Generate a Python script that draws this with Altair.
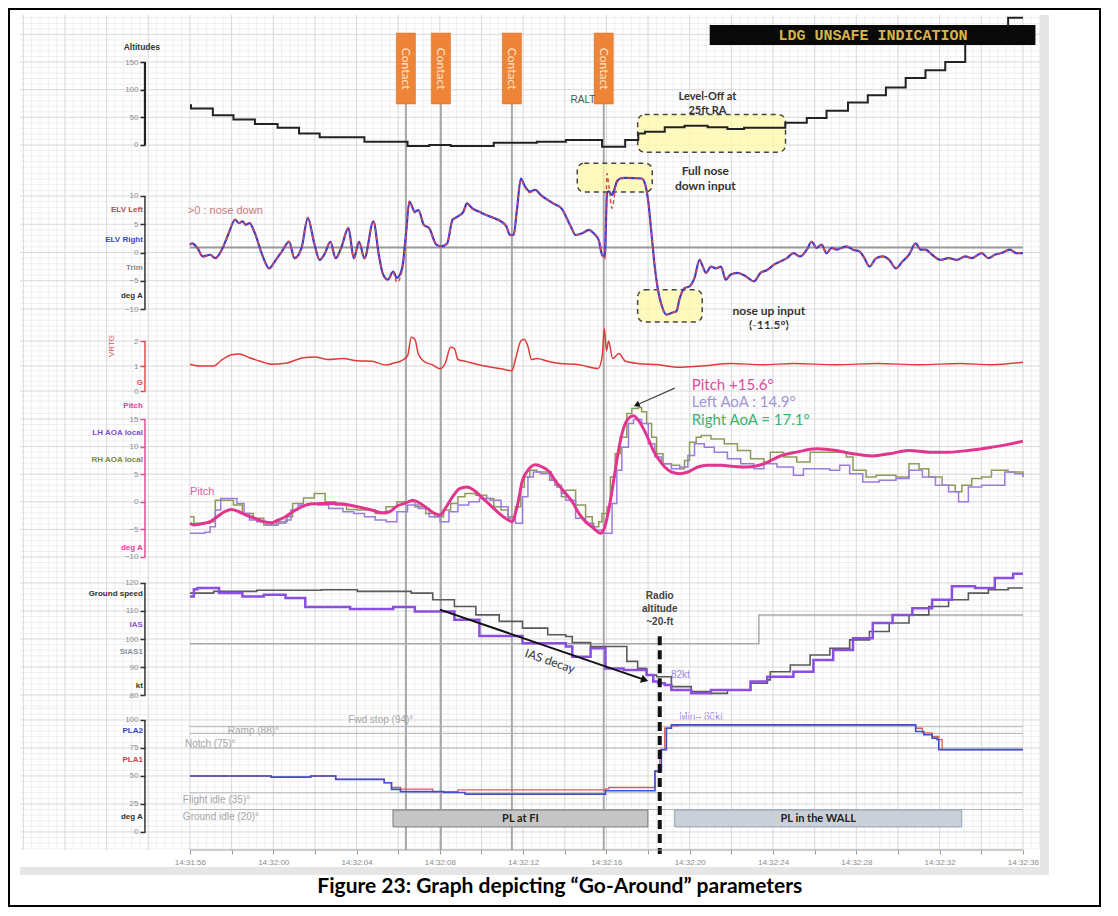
import altair as alt
import numpy as np
import pandas as pd

# ---------------- data (time t in seconds after 14:31:56) ----------------
TICK_LABELS = ["14:31:56", "14:32:00", "14:32:04", "14:32:08", "14:32:12", "14:32:16",
               "14:32:20", "14:32:24", "14:32:28", "14:32:32", "14:32:36"]
CONTACT_T = [10.37, 12.05, 15.46, 19.87]
RADIO_ALT_T = 22.56

ALT_T = [0.0, 0.05, 1.10, 2.09, 3.12, 4.21, 5.24, 6.23, 8.38, 10.45, 11.49, 12.52, 14.59, 16.66,
         18.05, 19.79, 20.90, 21.53, 21.85, 22.80, 23.75, 24.86, 25.81, 26.61, 28.59, 29.62, 30.57,
         31.60, 32.55, 33.42, 34.37, 35.32, 36.27, 37.23, 39.29, 40.0]
ALT_FT = [72, 66, 54, 46, 38, 31, 21, 14, 6, -2, 0, -2, 4, 6, 9, -3, 9, 21, 24, 32, 35, 32, 29, 31,
          40, 49, 62, 77, 90, 104, 121, 135, 150, 200, 230, 230]

ELV_T = [0.0, 0.10, 0.36, 0.62, 0.97, 1.22, 1.57, 1.83, 2.17, 2.35, 2.52, 2.69, 2.86, 3.12, 3.47,
         3.81, 4.07, 4.42, 4.76, 5.02, 5.36, 5.66, 5.97, 6.23, 6.49, 6.74, 7.00, 7.26, 7.61, 7.87,
         8.12, 8.38, 8.81, 9.07, 9.25, 9.50, 9.76, 9.94, 10.19, 10.37, 10.54, 10.80, 10.97, 11.23,
         11.49, 11.83, 12.09, 12.35, 12.61, 12.87, 13.13, 13.30, 13.56, 13.90, 14.25, 14.59, 14.94,
         15.20, 15.37, 15.54, 15.71, 15.89, 16.06, 16.32, 16.58, 16.84, 17.18, 17.44, 17.84,
         18.29, 18.52, 18.84, 19.16, 19.39, 19.63, 19.79, 19.92, 20.03, 20.11, 20.27, 20.50, 20.66,
         20.90, 21.69, 21.85, 22.01, 22.17, 22.33, 22.49, 22.64, 22.88, 23.12, 23.36, 23.52, 23.75,
         23.99, 24.23, 24.47, 24.63, 24.78, 25.02, 25.26, 25.50, 25.73, 25.97, 26.29, 26.69, 27.08,
         27.40, 27.72, 28.03, 28.35, 28.67, 28.98, 29.30, 29.62, 29.86, 30.09, 30.33, 30.57, 30.81,
         31.04, 31.52, 31.84, 32.15, 32.39, 32.63, 32.95, 33.26, 33.58, 33.90, 34.21, 34.53, 34.85,
         35.09, 35.32, 35.64, 36.04, 36.43, 36.83, 37.23, 37.54, 38.02, 38.34, 38.65, 38.97, 39.37,
         39.68, 40.0]
ELV_RIGHT = [1.35, 1.6, 0.8, -0.7, -0.4, -1.0, 0.8, 3.1, 5.8, 5.2, 5.5, 4.9, 5.2, 3.4, -0.4,
             -2.8, -1.6, 0.2, 1.9, -1.0, 0.8, 6.1, 1.6, -1.3, -0.1, 1.9, -1.0, 0.8, 4.3, -1.0,
             1.9, -1.0, 5.5, -0.4, -3.6, -4.8, -3.4, -4.5, -2.8, 3.1, 9.0, 7.2, 7.5, 4.9,
             4.3, 1.4, 1.1, 1.6, 5.8, 6.4, 7.2, 8.7, 7.8, 7.2, 6.6, 6.1, 5.5,
             4.6, 3.1, 3.1, 7.8, 13.1, 11.9, 10.8, 11.1, 10.2, 9.3, 8.7, 7.8,
             4.6, 3.1, 3.4, 4.0, 3.4, 2.2, -0.4, -0.7, 10.5, 10.8, 10.2, 12.5, 13.1,
             13.2, 13.1, 12.2, 9.0, 3.1, -2.8, -6.9, -9.2, -11.0, -10.7, -10.4, -8.1, -6.3,
             -6.0, -4.5, -1.3, -2.5, -3.6, -2.5, -2.8, -2.5, -4.8, -3.9, -3.6, -4.2, -5.1,
             -3.6, -3.1, -2.2, -1.6, -1.0, -0.1, -0.7, 0.5, 1.9, 0.8, 1.4, -0.1, 0.8,
             0.5, 1.1, 0.5, 0.2, -1.0, -2.5, -1.0, -0.7, -1.3, -2.8, -1.6, -0.4, 1.6,
             0.5, 0.5, -0.4, -1.3, -1.0, -1.3, -0.7, -1.0, -0.1, -1.0, -0.4, -0.1, 0.5,
             -0.1, -0.1]
ELV_LEFT = [1.4, 1.6, 0.8, -0.8, -0.4, -1.1, 0.8, 3.2, 5.9, 5.2, 5.6, 4.9, 5.3, 3.4, -0.5,
            -2.9, -1.6, 0.2, 2.0, -1.1, 0.8, 6.2, 1.6, -1.4, -0.1, 2.0, -1.1, 0.8, 4.4, -1.1,
            1.9, -1.1, 5.6, -0.5, -3.7, -4.9, -3.5, -5.3, -3.2, 3.0, 9.1, 7.0, 7.4, 4.9,
            4.3, 1.4, 1.1, 1.6, 5.7, 6.3, 7.2, 8.6, 7.7, 7.2, 6.6, 6.1, 5.5,
            4.6, 3.0, 3.0, 7.7, 13.0, 11.7, 10.6, 11.0, 10.1, 9.3, 8.7, 7.8,
            4.6, 3.1, 3.4, 4.0, 3.4, 2.2, -0.5, -1.2, 14.0, 12.0, 7.8, 12.8, 13.1,
            13.2, 13.1, 12.2, 9.0, 3.1, -2.8, -6.9, -9.2, -11.0, -10.7, -10.4, -8.1, -6.3,
            -6.0, -4.5, -1.3, -2.5, -3.6, -2.5, -2.8, -2.5, -4.8, -3.9, -3.6, -4.2, -5.1,
            -3.6, -3.1, -2.2, -1.6, -1.0, -0.1, -0.7, 0.5, 1.9, 0.8, 1.4, -0.1, 0.8,
            0.5, 1.1, 0.5, 0.2, -1.0, -2.5, -1.0, -0.7, -1.3, -2.8, -1.6, -0.4, 1.6,
            0.5, 0.5, -0.4, -1.3, -1.0, -1.3, -0.7, -1.0, -0.1, -1.0, -0.4, -0.1, 0.5,
            -0.1, -0.1]
TRIM_T = [0.0, 40.0]
TRIM_V = [0.9, 0.9]

G_T = [0.0, 0.45, 1.14, 1.48, 2.00, 2.35, 2.86, 3.38, 3.90, 4.59, 5.45, 5.97, 6.66, 7.35, 8.04,
       8.73, 9.42, 9.76, 10.11, 10.45, 10.63, 10.80, 10.97, 11.23, 11.66, 12.01, 12.26, 12.52,
       12.70, 12.87, 13.21, 13.90, 14.94, 15.46, 15.63, 15.89, 16.06, 16.23, 16.40, 16.66, 17.18,
       17.70, 18.70, 19.60, 19.80, 19.90, 20.00, 20.10, 20.30, 20.60, 20.90, 21.50, 22.50, 23.50,
       24.50, 26.00, 27.50, 29.00, 31.00, 33.00, 35.00, 37.00, 38.50, 40.00]
G_V = [1.07, 1.0, 1.0, 1.21, 1.45, 1.48, 1.33, 1.19, 1.07, 1.11, 1.33, 1.36, 1.26, 1.3, 1.21,
       1.19, 1.04, 1.11, 1.19, 1.41, 2.15, 2.07, 1.48, 1.19, 1.04, 0.89, 1.11, 1.75,
       1.7, 1.26, 1.19, 1.04, 0.89, 0.81, 1.26, 2.0, 2.07, 1.78, 1.26, 1.3, 1.19,
       1.11, 1.05, 0.9, 1.4, 2.5, 1.6, 2.0, 1.3, 1.5, 1.2, 1.1, 1.05, 0.95,
       1.0, 1.1, 1.05, 1.1, 1.05, 1.1, 1.05, 1.1, 1.05, 1.15]

PITCH_T = [0.0, 0.19, 0.53, 0.97, 1.31, 1.66, 2.00, 2.35, 2.69, 3.12, 3.55, 3.90, 4.24, 4.59, 4.93,
           5.36, 5.80, 6.31, 6.83, 7.35, 8.04, 8.73, 9.25, 9.59, 9.94, 10.37, 10.71, 11.06, 11.40,
           11.75, 12.01, 12.26, 12.61, 12.95, 13.30, 13.64, 13.99, 14.42, 14.85, 15.28, 15.46,
           15.71, 15.97, 16.23, 16.58, 16.92, 17.27, 17.53, 17.84, 18.36, 18.68, 19.00, 19.39,
           19.71, 19.87, 20.11, 20.35, 20.58, 20.82, 21.06, 21.30, 21.53, 21.77, 22.01, 22.25,
           22.49, 22.80, 23.12, 23.52, 23.91, 24.39, 24.86, 25.50, 26.13, 26.76, 27.56, 28.35,
           29.14, 30.09, 31.04, 31.84, 32.79, 33.58, 34.53, 35.48, 36.43, 37.38, 38.34, 39.29, 40.0]
PITCH_V = [-3.9, -4.2, -4.0, -3.6, -2.7, -1.8, -1.4, -1.8, -2.4, -3.0, -3.6, -3.8, -3.3, -2.7, -1.8,
           -0.9, -0.4, -0.3, -0.3, -0.4, -0.9, -1.5, -2.0, -1.8, -0.8, -0.2, 0.3, -0.3, -1.2,
           -2.1, -2.4, -1.2, 0.9, 2.4, 2.7, 2.1, 0.9, -0.6, -2.1, -3.3, -3.6,
           -0.9, 3.9, 5.7, 6.7, 6.3, 5.4, 3.9, 2.4, 0.0, -2.1, -3.6, -4.8,
           -5.7, -5.1, -1.5, 3.9, 9.3, 13.3, 15.1, 15.6, 14.8, 13.3, 11.4, 9.3,
           7.8, 6.3, 5.4, 5.1, 5.4, 6.3, 6.6, 6.6, 6.4, 6.3, 6.9, 8.3,
           9.0, 9.6, 9.3, 8.7, 8.3, 8.7, 9.3, 9.0, 9.0, 9.3, 9.8, 10.4, 11.0]

LH_T = [0.0, 0.71, 0.97, 1.22, 1.48, 1.91, 2.26, 2.60, 2.86, 3.21, 3.64, 4.24, 4.59, 4.85, 5.19,
        5.62, 6.14, 6.66, 7.35, 7.87, 8.38, 8.90, 9.42, 9.94, 10.45, 10.97, 11.49, 12.01, 12.44,
        12.87, 13.39, 13.90, 14.42, 14.94, 15.28, 15.63, 15.97, 16.23, 16.49, 16.84, 17.27, 17.53,
        17.84, 18.05, 18.52, 19.00, 19.39, 19.79, 20.27, 20.50, 20.74, 21.06, 21.30, 21.69, 22.01,
        22.33, 22.64, 23.12, 23.52, 23.91, 24.23, 24.70, 25.18, 25.81, 26.45, 27.08, 27.56, 28.19,
        28.98, 29.46, 30.09, 30.73, 31.20, 31.68, 32.31, 33.10, 33.90, 34.53, 35.17, 35.80, 36.43,
        36.91, 37.38, 38.02, 38.65, 39.13, 39.60, 40.0]
LH_V = [-5.7, -5.5, -4.5, -1.5, 0.6, 0.6, -0.3, -2.1, -3.3, -3.6, -4.2, -3.9, -3.3, -1.5, -0.6,
        -0.3, -0.6, -1.2, -1.8, -2.1, -2.7, -3.3, -3.6, -1.8, -0.6, -1.2, -2.7, -3.6, -1.8,
        -0.6, 0.0, 0.6, 0.3, -0.9, -3.0, -3.9, 0.9, 4.5, 5.4, 5.1, 3.9, 3.0,
        1.5, 0.3, -3.0, -3.9, -5.1, -5.7, -0.3, 5.7, 9.9, 14.2, 14.9, 14.2, 10.5,
        8.1, 6.9, 6.0, 6.3, 8.4, 10.5, 9.9, 9.0, 7.8, 6.9, 6.0, 6.9, 6.3,
        4.8, 6.0, 6.0, 5.7, 6.6, 5.1, 3.6, 3.9, 4.2, 5.7, 4.5, 3.0, 1.8,
        0.0, 2.7, 3.0, 3.0, 5.4, 5.1, 4.5]

RH_T = [0.0, 0.19, 0.97, 1.22, 1.83, 2.09, 2.52, 3.04, 3.55, 4.16, 4.67, 4.93, 5.45, 5.97, 6.49,
        7.00, 7.52, 8.04, 8.90, 9.42, 9.94, 10.45, 10.80, 11.32, 11.75, 12.18, 12.52, 12.87, 13.21,
        13.73, 14.25, 14.59, 14.94, 15.28, 15.63, 15.89, 16.06, 16.32, 16.66, 17.09, 17.35, 17.61,
        17.84, 18.05, 18.52, 19.00, 19.32, 19.63, 19.79, 20.03, 20.19, 20.42, 20.66, 20.98, 21.22,
        21.53, 21.69, 21.93, 22.17, 22.41, 22.72, 23.12, 23.52, 23.75, 23.99, 24.31, 24.55, 25.02,
        25.66, 26.29, 26.92, 27.56, 27.87, 28.51, 29.14, 29.78, 30.41, 31.52, 31.84, 32.47, 32.95,
        33.90, 34.53, 35.01, 35.48, 36.12, 36.75, 37.07, 37.54, 38.02, 38.49, 39.29, 40.0]
RH_V = [-2.7, -3.9, -3.6, 0.3, 0.3, -0.6, -2.1, -3.0, -4.2, -3.6, -2.7, -0.3, 0.7, 1.5, 0.0,
        -0.6, -1.4, -1.5, -2.1, -0.9, 0.0, 0.0, -0.9, -2.1, -2.7, -1.5, -0.3, 0.9, 1.5,
        1.2, 0.6, -0.9, -1.5, -2.7, -0.9, 2.7, 4.5, 5.7, 5.4, 5.4, 3.9, 2.7,
        0.9, 2.1, -0.6, -2.7, -4.5, -3.6, -2.1, -0.9, 4.5, 8.7, 11.7, 16.0, 16.9,
        17.1, 16.3, 14.2, 11.7, 8.7, 6.9, 6.6, 6.0, 7.5, 10.8, 11.7, 12.0, 11.4,
        10.5, 9.3, 7.8, 7.2, 9.0, 8.1, 7.2, 9.0, 9.0, 8.1, 5.7, 4.5, 4.8,
        4.5, 6.9, 6.0, 4.5, 3.0, 1.8, 3.0, 4.2, 4.5, 5.7, 5.4, 4.5]

GS_T = [0.0, 1.14, 3.21, 6.31, 8.04, 10.63, 11.66, 12.70, 13.73, 14.85, 15.97, 17.18, 18.05, 18.36,
        19.24, 20.98, 21.50, 21.93, 22.41, 23.12, 24.07, 25.02, 25.81, 26.92, 27.72, 27.87, 28.83,
        29.78, 30.73, 31.68, 32.63, 33.58, 34.53, 35.48, 36.43, 37.38, 38.34, 39.29, 40.0]
GS_V = [116.4, 117.0, 117.4, 117.6, 117.0, 116.4, 114.0, 111.6, 108.6, 106.3, 103.9, 101.5, 100.9,
        98.7, 97.3, 92.0, 89.5, 87.1, 86.5, 83.0, 81.2, 80.6, 81.8, 84.2, 85.4, 88.3, 90.7,
        94.3, 96.7, 99.7, 102.7, 105.7, 108.6, 111.6, 114.0, 116.4, 117.6, 118.2, 118.2]

IAS_T = [0.0, 0.19, 0.36, 1.40, 2.52, 3.55, 4.59, 5.54, 7.69, 9.76, 10.80, 12.70, 13.90, 15.97,
         18.05, 18.36, 19.24, 19.95, 20.82, 21.93, 22.25, 22.49, 22.80, 23.12, 24.07, 25.02, 26.92,
         27.72, 28.98, 29.94, 30.89, 31.84, 32.79, 33.74, 34.69, 35.64, 36.59, 37.70, 38.65,
         39.53, 40.0]
IAS_V = [115.2, 117.8, 118.2, 116.4, 115.2, 115.8, 114.6, 111.4, 110.7, 111.4, 109.8, 106.9, 101.1,
         98.5, 97.3, 93.7, 96.7, 89.5, 88.9, 87.1, 84.8, 84.2, 83.6, 81.8, 80.6, 81.8, 84.8,
         86.5, 88.3, 92.5, 96.1, 100.3, 105.7, 108.6, 111.0, 114.0, 118.8, 118.2, 121.8,
         123.3, 123.3]

SIAS_T = [0.0, 27.32, 40.0]
SIAS_V = [98.3, 108.6, 108.6]

PLA1_T = [0.0, 3.90, 5.80, 7.00, 9.33, 9.68, 10.11, 11.66, 12.87, 19.95, 20.11, 22.33, 22.56,
          22.80, 23.12, 23.44, 34.85, 35.17, 35.64, 35.96, 36.12, 40.0]
PLA1_V = [50, 49, 50, 47, 44, 39.7, 38.2, 36.0, 37.6, 38.5, 39.7, 54, 73.5, 92.6, 94.7, 95.6,
          92.6, 88.5, 85.3, 82.4, 73.5, 73.5]
PLA2_T = [0.0, 3.90, 5.80, 7.00, 9.33, 9.68, 10.11, 12.18, 13.21, 19.95, 22.33, 22.64, 22.88,
          23.12, 34.85, 35.24, 35.64, 35.88, 35.96, 40.0]
PLA2_V = [50, 49, 50, 47, 44, 38, 36, 35.3, 33.8, 36.8, 54.4, 73.5, 92.6, 95.6, 89.7, 86.8,
          83.8, 82.4, 73.5, 73.5]

REF_NAMES = ["Fwd stop (94)°", "Ramp (88)°", "Notch (75)°", "Flight idle (35)°", "Ground idle (20)°"]
REF_VALUES = [94, 88, 75, 35, 20]

# ---------------- layout / style ----------------
XDOM = [-8.16, 40.82]
W = 1020
T_AXIS = -2.16
AX_OFF = -125
FONT_UI = "Liberation Sans"
FONT_DOC = "Lato"
MINOR = "#efefef"
MAJOR = "#d8d8d8"
CONTACT_GRAY = "#a8a8a8"

P = {
    "alt": dict(h=155, dom=[-45.2, 235.0], ticks=[0, 50, 100, 150], major=50, minor=10, color="#222"),
    "elv": dict(h=155, dom=[-12.83, 14.6], ticks=[-10, -5, 0, 5, 10], major=5, minor=1, color="#333"),
    "g": dict(h=80, dom=[-0.56, 2.64], ticks=[0, 1, 2], major=1, minor=0.2, color="#e05050"),
    "pitch": dict(h=165, dom=[-12.36, 17.54], ticks=[-10, -5, 0, 5, 10, 15], major=5, minor=1, color="#e0509a"),
    "spd": dict(h=138, dom=[75.36, 124.64], ticks=[80, 90, 100, 110, 120], major=10, minor=2, color="#333"),
    "pla": dict(h=142, dom=[-16.1, 110.7], ticks=[0, 25, 50, 75, 100], major=25, minor=5, color="#333"),
}


def xq(field="t", axis=None):
    return alt.X(field, type="quantitative", scale=alt.Scale(domain=XDOM, nice=False, zero=False), axis=axis)


def yq(p, field="v", axis=None):
    return alt.Y(field, type="quantitative", scale=alt.Scale(domain=p["dom"], nice=False, zero=False), axis=axis)


def one():
    return alt.Data(values=[{"k": 0}])


def grid(p, xaxis=None):
    k = np.arange(-20, 103)
    tv = np.round(k * 0.4, 3)
    vmin = pd.DataFrame({"t": tv[k % 5 != 0]})
    vmaj = pd.DataFrame({"t": tv[k % 5 == 0]})
    ratio = int(round(p["major"] / p["minor"]))
    j = np.arange(int(np.ceil(p["dom"][0] / p["minor"])), int(np.floor(p["dom"][1] / p["minor"])) + 1)
    hv = np.round(j * p["minor"], 4)
    hmin = pd.DataFrame({"v": hv[j % ratio != 0]})
    hmaj = pd.DataFrame({"v": hv[j % ratio == 0]})
    yaxis = alt.Axis(orient="left", values=p["ticks"], offset=AX_OFF, domain=False, grid=False, ticks=True,
                     tickSize=5, tickColor=p["color"], tickWidth=1.5, labelColor="#8c8c8c",
                     labelFontSize=8, labelFont=FONT_UI, labelPadding=2, title=None, zindex=1)
    return [
        alt.Chart(vmin).mark_rule(color=MINOR, strokeWidth=1).encode(
            x=xq(axis=xaxis), y=alt.value(0), y2=alt.value(p["h"])),
        alt.Chart(hmin).mark_rule(color=MINOR, strokeWidth=1).encode(
            y=yq(p, axis=yaxis), x=alt.value(0), x2=alt.value(W)),
        alt.Chart(vmaj).mark_rule(color=MAJOR, strokeWidth=1).encode(
            x=xq(), y=alt.value(0), y2=alt.value(p["h"])),
        alt.Chart(hmaj).mark_rule(color=MAJOR, strokeWidth=1).encode(
            y=yq(p), x=alt.value(0), x2=alt.value(W)),
    ]


def axis_line(p, width=1.5):
    df = pd.DataFrame({"t": [T_AXIS], "v": [p["ticks"][0]], "v2": [p["ticks"][-1]]})
    return alt.Chart(df).mark_rule(color=p["color"], strokeWidth=width).encode(
        x=xq(), y=yq(p), y2=alt.Y2("v2"))


def axis_texts(p, rows, size=8, bold=True):
    df = pd.DataFrame({"t": [T_AXIS - 0.1] * len(rows), "v": [r[1] for r in rows],
                       "s": [r[0] for r in rows], "c": [r[2] for r in rows]})
    return alt.Chart(df).mark_text(align="right", baseline="middle", fontSize=size, font=FONT_UI,
                                   fontWeight="bold" if bold else "normal").encode(
        x=xq(), y=yq(p), text="s:N", color=alt.Color("c:N", scale=None))


def contact_lines(p, top=None):
    if top is None:
        return alt.Chart(pd.DataFrame({"t": CONTACT_T})).mark_rule(color=CONTACT_GRAY, strokeWidth=2).encode(
            x=xq(), y=alt.value(0), y2=alt.value(p["h"]))
    return alt.Chart(pd.DataFrame({"t": CONTACT_T, "v": [top] * 4})).mark_rule(
        color=CONTACT_GRAY, strokeWidth=2).encode(x=xq(), y=yq(p), y2=alt.value(p["h"]))


def series(p, t, v, color, width, interp="linear", dash=None):
    kw = dict(color=color, strokeWidth=width, interpolate=interp)
    if dash:
        kw["strokeDash"] = dash
    return alt.Chart(pd.DataFrame({"t": t, "v": v})).mark_line(**kw).encode(x=xq(), y=yq(p))


def text(p, rows, **mk):
    df = pd.DataFrame({"t": [r[0] for r in rows], "v": [r[1] for r in rows], "s": [r[2] for r in rows]})
    return alt.Chart(df).mark_text(**mk).encode(x=xq(), y=yq(p), text="s:N")


def box(p, t1, t2, v1, v2, **mk):
    df = pd.DataFrame({"t": [t1], "t2": [t2], "v": [v1], "v2": [v2]})
    return alt.Chart(df).mark_rect(**mk).encode(x=xq(), x2=alt.X2("t2"), y=yq(p), y2=alt.Y2("v2"))


def note_box(p, t1, t2, v1, v2):
    return box(p, t1, t2, v1, v2, fill="#fff9a8", fillOpacity=0.75, stroke="#444",
               strokeDash=[5, 4], strokeWidth=1.5, cornerRadius=7)


def panel(p, layers):
    return alt.layer(*layers).resolve_axis(x="independent", y="independent").properties(
        width=W, height=p["h"])


# ---------------- panel 1: altitudes ----------------
p = P["alt"]
cdf = pd.DataFrame({"t": [c - 0.46 for c in CONTACT_T], "t2": [c + 0.46 for c in CONTACT_T],
                    "v": [74.1] * 4, "v2": [202.4] * 4, "m": CONTACT_T, "mv": [138.0] * 4})
panel1 = panel(p, [
    *grid(p),
    alt.Chart(one()).mark_rect(color="#e6e6e6").encode(
        x=alt.value(W), x2=alt.value(W + 9), y=alt.value(0), y2=alt.value(859)),
    contact_lines(p, top=74.1),
    alt.Chart(cdf).mark_rect(color="#ee8437", stroke="#d46a20", strokeWidth=0.5).encode(
        x=xq(), x2=alt.X2("t2"), y=yq(p), y2=alt.Y2("v2")),
    alt.Chart(cdf).mark_text(angle=90, fontSize=12, font=FONT_DOC, color="#fde6cc",
                             baseline="middle", align="center").encode(
        x=xq("m"), y=yq(p, "mv"), text=alt.value("Contact")),
    note_box(p, 21.5, 28.6, -13, 55),
    series(p, ALT_T, ALT_FT, "#222", 2, "step-after"),
    box(p, 24.96, 40.6, 180.7, 216.9, color="#0a0a0a"),
    text(p, [(32.8, 198.8, "LDG UNSAFE INDICATION")], font="Liberation Mono", fontSize=15,
         fontWeight="bold", color="#d9b44a", align="center", baseline="middle"),
    text(p, [(18.87, 81.3, "RALT")], font=FONT_UI, fontSize=10, color="#555", align="center",
         baseline="middle"),
    text(p, [(24.85, 86.8, "Level-Off at"), (24.85, 61.5, "25ft RA")], font=FONT_DOC, fontSize=11,
         fontWeight="bold", color="#333", align="center", baseline="middle"),
    axis_line(p, 2.2),
    text(p, [(T_AXIS - 0.15, 177.1, "Altitudes")], font=FONT_UI, fontSize=8.5, fontWeight="bold",
         color="#333", align="center", baseline="middle"),
    alt.Chart(one()).mark_rect(fill="#ffffff", fillOpacity=0, stroke="#000", strokeWidth=2).encode(
        x=alt.value(-11), x2=alt.value(1080), y=alt.value(-6), y2=alt.value(891)),
])

# ---------------- panel 2: elevator ----------------
p = P["elv"]
panel2 = panel(p, [
    *grid(p),
    contact_lines(p),
    series(p, TRIM_T, TRIM_V, "#9a9a9a", 2),
    note_box(p, 18.6, 22.2, 10.7, 15.8),
    note_box(p, 21.5, 24.6, -12.3, -6.6),
    series(p, ELV_T, ELV_RIGHT, "#3a3ad6", 2.2, "monotone"),
    series(p, ELV_T, ELV_LEFT, "#d84848", 1.4, "monotone", dash=[4, 3]),
    text(p, [(-0.1, 7.35, ">0 : nose down")], font=FONT_UI, fontSize=11, color="#c87a7a",
         align="left", baseline="middle"),
    text(p, [(24.75, 14.4, "Full nose"), (24.75, 11.8, "down input"),
             (27.8, -10.35, "nose up input"), (27.8, -12.83, "(-11.5°)")],
         font=FONT_DOC, fontSize=12, fontWeight="bold", color="#333", align="center", baseline="middle"),
    axis_line(p),
    axis_texts(p, [("ELV Left", 7.52, "#a85050"), ("ELV Right", 2.21, "#3a48d0"),
                   ("Trim", -2.74, "#888888"), ("deg A", -7.7, "#333333")]),
])

# ---------------- panel 3: vertical g ----------------
p = P["g"]
panel3 = panel(p, [
    *grid(p),
    contact_lines(p),
    series(p, G_T, G_V, "#e03a3a", 1.5, "monotone"),
    axis_line(p),
    axis_texts(p, [("G", 0.32, "#e05050")]),
    text(p, [(-3.74, 1.8, "VRTG")], font=FONT_UI, fontSize=8, color="#e05050", angle=270,
         align="center", baseline="middle"),
])

# ---------------- panel 4: pitch & AoA ----------------
p = P["pitch"]
arrow_df = pd.DataFrame({"t": [23.28], "v": [20.6], "t2": [21.45], "v2": [17.55]})
panel4 = panel(p, [
    *grid(p),
    contact_lines(p),
    series(p, RH_T, RH_V, "#8c9c58", 1.5, "step-after"),
    series(p, LH_T, LH_V, "#9a7ce0", 1.5, "step-after"),
    series(p, PITCH_T, PITCH_V, "#e2358e", 3, "monotone"),
    alt.Chart(arrow_df).mark_rule(color="#444", strokeWidth=1.2).encode(
        x=xq(), y=yq(p), x2=alt.X2("t2"), y2=alt.Y2("v2")),
    alt.Chart(arrow_df).mark_point(shape="triangle-left", filled=True, size=45, angle=336,
                                   color="#111", opacity=1).encode(x=xq("t2"), y=yq(p, "v2")),
    text(p, [(24.1, 21.1, "Pitch +15.6°")], font=FONT_DOC, fontSize=15, color="#d94c9f",
         align="left", baseline="middle"),
    text(p, [(24.1, 18.0, "Left AoA : 14.9°")], font=FONT_DOC, fontSize=15, color="#a294d6",
         align="left", baseline="middle"),
    text(p, [(24.1, 14.75, "Right AoA = 17.1°")], font=FONT_DOC, fontSize=15, color="#3cb371",
         align="left", baseline="middle"),
    text(p, [(0.0, 1.8, "Pitch")], font=FONT_UI, fontSize=11, color="#e060a8", align="left",
         baseline="middle"),
    axis_line(p),
    axis_texts(p, [("Pitch", 17.36, "#e040a0"), ("LH AOA local", 12.46, "#7a50d0"),
                   ("RH AOA local", 7.57, "#7a8a40"), ("deg A", -8.37, "#e040a0")]),
])

# ---------------- panel 5: speeds ----------------
p = P["spd"]
ias_arrow = pd.DataFrame({"t": [12.0], "v": [110.5], "t2": [21.84], "v2": [85.4]})
panel5 = panel(p, [
    *grid(p),
    contact_lines(p),
    series(p, SIAS_T, SIAS_V, "#a9a9a9", 1.5, "step-after"),
    series(p, GS_T, GS_V, "#5a5a5a", 1.6, "step-after"),
    series(p, IAS_T, IAS_V, "#8a4fe0", 2.5, "step-after"),
    alt.Chart(ias_arrow).mark_rule(color="#111", strokeWidth=2).encode(
        x=xq(), y=yq(p), x2=alt.X2("t2"), y2=alt.Y2("v2")),
    alt.Chart(ias_arrow).mark_point(shape="triangle-right", filled=True, size=70, angle=19,
                                    color="#111", opacity=1).encode(x=xq("t2"), y=yq(p, "v2")),
    text(p, [(17.28, 92.1, "IAS decay")], font=FONT_DOC, fontSize=12, color="#333", angle=19,
         align="center", baseline="middle"),
    alt.Chart(pd.DataFrame({"t": [RADIO_ALT_T], "v": [101.0]})).mark_rule(
        color="#111", strokeWidth=4, strokeDash=[9, 5]).encode(x=xq(), y=yq(p), y2=alt.value(p["h"])),
    text(p, [(RADIO_ALT_T, 115.4, "Radio"), (RADIO_ALT_T, 110.8, "altitude"),
             (RADIO_ALT_T, 106.1, "~20-ft")], font=FONT_UI, fontSize=10, fontWeight="bold",
         color="#444", align="center", baseline="middle"),
    text(p, [(23.1, 87.1, "82kt"), (23.5, 72.3, "Min= 80kt")], font=FONT_UI, fontSize=10,
         color="#9b87e0", align="left", baseline="middle"),
    axis_line(p),
    axis_texts(p, [("Ground speed", 116.1, "#333333"), ("IAS", 105.0, "#8a50e0"),
                   ("SIAS1", 95.4, "#8890a0"), ("kt", 83.2, "#333333")]),
])

# ---------------- panel 6: power levers ----------------
p = P["pla"]
refs = pd.DataFrame({"t": [0.0] * 5, "t2": [40.0] * 5, "v": REF_VALUES})
xaxis = alt.Axis(orient="bottom", values=list(range(0, 41, 2)),
                 labelExpr="datum.value % 4 == 0 ? " + str(TICK_LABELS) + "[datum.value / 4] : ''",
                 domain=False, grid=False, ticks=True, tickSize=4, tickColor="#999",
                 labelColor="#8c8c8c", labelFontSize=8, labelFont=FONT_UI, labelPadding=4,
                 labelOverlap=False, labelFlush=False, title=None, zindex=1)
panel6 = panel(p, [
    *grid(p, xaxis=xaxis),
    alt.Chart(one()).mark_rect(color="#e6e6e6").encode(
        x=alt.value(0), x2=alt.value(W + 9), y=alt.value(p["h"] + 17), y2=alt.value(p["h"] + 25)),
    contact_lines(p),
    alt.Chart(refs).mark_rule(color="#b4b4b4", strokeWidth=1).encode(
        x=xq(), x2=alt.X2("t2"), y=yq(p)),
    text(p, [(7.6, 100.0, REF_NAMES[0]), (1.82, 90.2, REF_NAMES[1]), (-0.24, 78.6, REF_NAMES[2]),
             (-0.34, 28.6, REF_NAMES[3]), (-0.34, 13.4, REF_NAMES[4])],
         font=FONT_UI, fontSize=10, color="#a6a6a6", align="left", baseline="middle"),
    series(p, PLA1_T, PLA1_V, "#e05a5a", 1.3, "step-after"),
    series(p, PLA2_T, PLA2_V, "#3f4fd0", 1.6, "step-after"),
    box(p, 9.75, 21.99, 4.5, 19.6, fill="#c6c6c6", stroke="#7a7a7a", strokeWidth=1),
    box(p, 23.28, 37.06, 4.5, 19.6, fill="#c9d0d7", stroke="#8ea4ba", strokeWidth=1),
    text(p, [(15.87, 12.0, "PL at FI"), (30.17, 12.0, "PL in the WALL")], font=FONT_DOC, fontSize=11,
         fontWeight="bold", color="#222", align="center", baseline="middle"),
    alt.Chart(pd.DataFrame({"t": [RADIO_ALT_T]})).mark_rule(
        color="#111", strokeWidth=4, strokeDash=[9, 5]).encode(x=xq(), y=alt.value(0), y2=alt.value(p["h"] + 4)),
    alt.Chart(pd.DataFrame({"t": [0.0], "t2": [40.0]})).mark_rule(color="#9a9a9a", strokeWidth=1).encode(
        x=xq(), x2=alt.X2("t2"), y=alt.value(p["h"])),
    axis_line(p),
    axis_texts(p, [("PLA2", 90.5, "#3040c0"), ("PLA1", 64.3, "#d04040"), ("deg A", 13.4, "#333333")]),
    alt.Chart(one()).mark_text(font=FONT_DOC, fontSize=21, fontWeight="bold", color="#000",
                               align="center", baseline="middle").encode(
        x=alt.value((17.76 - XDOM[0]) / (XDOM[1] - XDOM[0]) * W), y=alt.value(p["h"] + 37),
        text=alt.value("Figure 23: Graph depicting \u201cGo-Around\u201d parameters")),
])

chart = alt.vconcat(panel1, panel2, panel3, panel4, panel5, panel6, spacing=0, bounds="flush").properties(
    padding={"left": 0, "top": 0, "right": 0, "bottom": 0},
    background="#ffffff",
).configure_view(stroke=None)

chart.save("out.html", embed_options={"renderer": "svg", "actions": False})
